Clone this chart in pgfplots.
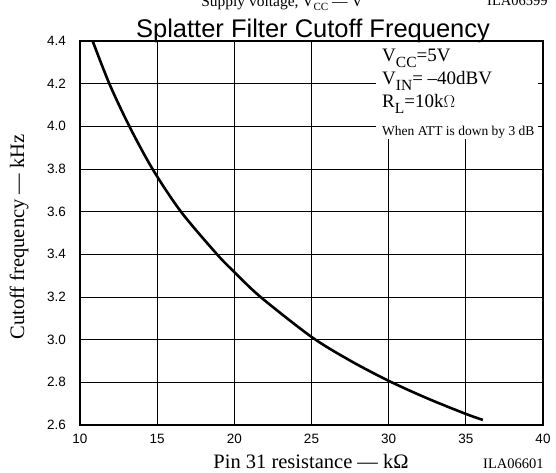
\documentclass[border=0pt]{standalone}
\usepackage{pgfplots}
\pgfplotsset{compat=1.18}
\usepackage{fontspec}
\setmainfont{Liberation Serif}
\newfontfamily\arial{Liberation Sans}

\newcommand{\fs}[1]{\fontsize{#1}{#1}\selectfont}
\newcommand{\sub}[1]{\raisebox{-5.5pt}{\fs{15.5}#1}}

\begin{document}
\begin{tikzpicture}[x=1pt,y=1pt]
\useasboundingbox (0,0) rectangle (556,472);

\begin{axis}[
    at={(80pt,47pt)}, anchor=south west,
    scale only axis, width=463pt, height=384pt,
    xmin=10, xmax=40, ymin=2.6, ymax=4.4,
    xtick={10,15,20,25,30,35,40},
    ytick={2.6,2.8,3.0,3.2,3.4,3.6,3.8,4.0,4.2,4.4},
    grid=major,
    major grid style={black, line width=0.8pt},
    axis line style={line width=1.3pt},
    major tick length=0pt,
    /pgf/number format/assume math mode=true,
    ticklabel style={font=\arial\fs{13.5}},
    x tick label style={anchor=base, yshift=-18pt},
    y tick label style={anchor=east, inner sep=0pt, xshift=-14pt,
        /pgf/number format/.cd, fixed, fixed zerofill, precision=1},
]
%the single curve
\addplot[black, line width=2.6pt, smooth] coordinates {
    (10.82,4.40) (11.9,4.20) (13.2,4.00) (14.7,3.80) (16.54,3.60)
    (18.88,3.40) (20,3.317) (21.7,3.20) (25,3.013)
    (27.5,2.902) (30,2.807) (32.5,2.725) (35,2.652) (36.1,2.624)
};
\end{axis}

% conditions box, covers the grid behind it
\fill[white] (376,333) rectangle (538,429.5);
\node[anchor=base west, inner sep=0pt, font=\fs{19}] at (382,410) {V\sub{CC}=5V};
\node[anchor=base west, inner sep=0pt, font=\fs{19}] at (382,387) {V\sub{IN}= \textendash40dBV};
\node[anchor=base west, inner sep=0pt, font=\fs{19}] at (382,364) {R\sub{L}=10k$\Omega$};
\node[anchor=base west, inner sep=0pt, font=\fs{13.5}] at (382,337) {When ATT is down by 3 dB};

% title and labels
\node[anchor=base, inner sep=0pt, font=\arial\fs{25.5}] at (313,434.5) {Splatter Filter Cutoff Frequency};
\node[anchor=base, inner sep=0pt, font=\fs{20.5}] at (311,4) {Pin 31 resistance — kΩ};
\node[anchor=base, inner sep=0pt, rotate=90, font=\fs{20.5}] at (24,235) {Cutoff frequency — kHz};
\node[anchor=base west, inner sep=0pt, font=\fs{14.5}] at (483,4) {ILA06601};

% cut-off text of the chart above
\node[anchor=base, inner sep=0pt, font=\fs{15.5}] at (282,465.5) {Supply voltage, V\raisebox{-4pt}{\fs{11}CC} — V};
\node[anchor=base west, inner sep=0pt, font=\fs{14.5}] at (487,466.6) {ILA06599};
\end{tikzpicture}
\end{document}
